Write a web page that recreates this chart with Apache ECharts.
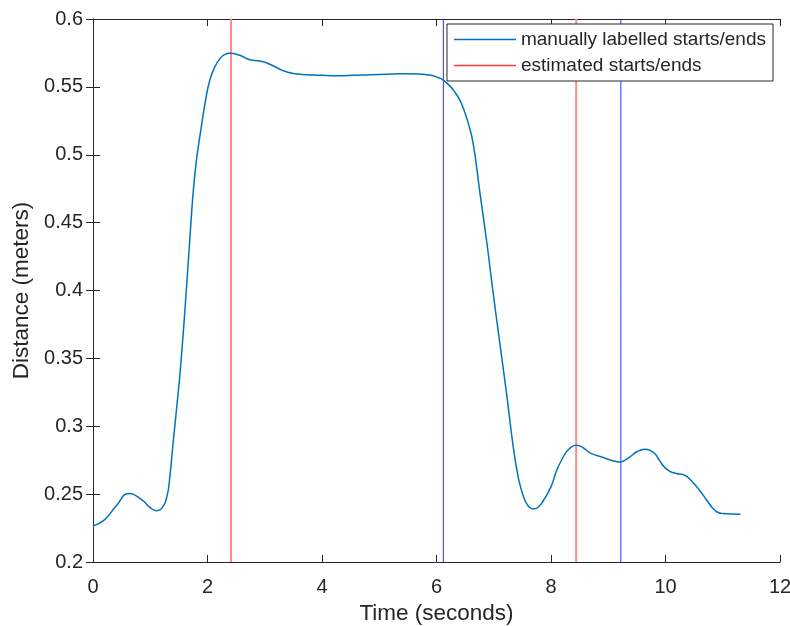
<!DOCTYPE html>
<html>
<head>
<meta charset="utf-8">
<script src="https://cdn.jsdelivr.net/npm/echarts@6/dist/echarts.min.js"></script>
<style>html,body{margin:0;padding:0;background:#fff;}#c{width:790px;height:626px;}</style>
</head>
<body>
<div id="c"></div>
<script>
const timeS = [0,0.2,0.4,0.63,0.85,1.0,1.11,1.2,1.29,1.345,1.40,1.46,1.52,1.61,1.69,1.78,1.90,1.97,2.04,2.12,2.22,2.30,2.38,2.55,2.74,2.92,3.10,3.32,3.50,3.73,4.0,4.26,4.55,4.84,5.1,5.42,5.7,5.90,6.05,6.12,6.25,6.33,6.41,6.47,6.55,6.64,6.76,6.88,6.99,7.11,7.23,7.34,7.43,7.52,7.60,7.69,7.78,7.87,8.0,8.10,8.19,8.27,8.36,8.44,8.55,8.68,8.80,8.91,9.05,9.21,9.30,9.38,9.50,9.64,9.73,9.82,9.90,9.99,10.09,10.19,10.34,10.47,10.60,10.72,10.83,10.92,11.01,11.15,11.31];
const distance = [0.2265,0.231,0.241,0.2505,0.246,0.240,0.2378,0.2395,0.248,0.264,0.288,0.313,0.339,0.388,0.437,0.486,0.523,0.541,0.555,0.564,0.571,0.5738,0.5747,0.5735,0.570,0.5690,0.5665,0.562,0.5598,0.559,0.5585,0.5582,0.5585,0.559,0.5593,0.5597,0.5595,0.5585,0.5565,0.555,0.550,0.5455,0.540,0.534,0.524,0.5084,0.4715,0.435,0.398,0.360,0.322,0.285,0.262,0.248,0.2415,0.239,0.2405,0.2455,0.2555,0.2676,0.2755,0.2811,0.2848,0.286,0.2845,0.2804,0.2785,0.277,0.275,0.2737,0.2752,0.2774,0.2812,0.2831,0.2822,0.2795,0.2745,0.2695,0.2665,0.2652,0.2638,0.259,0.2525,0.2455,0.2394,0.2365,0.2357,0.2353,0.2352];
const manualMarks = [6.12, 9.22];
const estimatedMarks = [2.41, 8.44];
const xTicks = {min: 0, max: 12, interval: 2};
const yTicks = {min: 0.2, max: 0.6, interval: 0.05};
const seriesNames = ['manually labelled starts/ends', 'estimated starts/ends'];

const FONT = '"Liberation Sans", Arial, Helvetica, sans-serif';
const AX = '#262626';

function vLines(xs) {
  const d = [];
  xs.forEach(x => { d.push([x, yTicks.min]); d.push([x, yTicks.max]); d.push(null); });
  return d;
}
const fmtY = v => String(+(+v).toFixed(2));

const baseAxis = {
  axisLine: {show: true, lineStyle: {color: AX, width: 1}},
  axisTick: {show: true, inside: true, length: 7, lineStyle: {color: AX, width: 1}},
  splitLine: {show: false}
};

const chart = echarts.init(document.getElementById('c'), null, {renderer: 'canvas'});
chart.setOption({
  animation: false,
  backgroundColor: '#fff',
  grid: {left: 93, right: 10, top: 19, bottom: 64, containLabel: false, outerBoundsMode: 'none'},
  legend: {
    orient: 'vertical', right: 17, top: 24,
    data: seriesNames,
    icon: 'rect', itemWidth: 62, itemHeight: 1.5, itemGap: 7, itemTextGap: 6,
    padding: [6, 7, 6, 7],
    borderColor: AX, borderWidth: 1, backgroundColor: '#fff',
    textStyle: {fontFamily: FONT, fontSize: 19, color: AX}
  },
  xAxis: [
    Object.assign({}, baseAxis, {type: 'value', position: 'bottom', min: xTicks.min, max: xTicks.max, interval: xTicks.interval,
      name: 'Time (seconds)', nameLocation: 'middle', nameGap: 38,
      nameTextStyle: {fontFamily: FONT, fontSize: 22.5, color: AX},
      axisLabel: {fontFamily: FONT, fontSize: 20, color: AX, margin: 15}}),
    Object.assign({}, baseAxis, {type: 'value', position: 'top', min: xTicks.min, max: xTicks.max, interval: xTicks.interval,
      axisLabel: {show: false}})
  ],
  yAxis: [
    Object.assign({}, baseAxis, {type: 'value', position: 'left', min: yTicks.min, max: yTicks.max, interval: yTicks.interval,
      name: 'Distance (meters)', nameLocation: 'middle', nameGap: 59, nameRotate: 90,
      nameTextStyle: {fontFamily: FONT, fontSize: 22.5, color: AX},
      axisLabel: {fontFamily: FONT, fontSize: 20, color: AX, margin: 10, formatter: fmtY}}),
    Object.assign({}, baseAxis, {type: 'value', position: 'right', min: yTicks.min, max: yTicks.max, interval: yTicks.interval,
      axisLabel: {show: false}})
  ],
  series: [
    {
      name: seriesNames[0], type: 'line', smooth: 0.5, showSymbol: false, symbol: 'none',
      data: timeS.map((t, i) => [t, distance[i]]),
      lineStyle: {color: '#0072BD', width: 1.5}, itemStyle: {color: '#0072BD'}, z: 3
    },
    {
      name: seriesNames[1], type: 'line', showSymbol: false, symbol: 'none', connectNulls: false,
      data: vLines(estimatedMarks),
      lineStyle: {color: '#ff8a8a', width: 2}, itemStyle: {color: '#ff3b3b'}, z: 2
    },
    {
      name: 'manual', type: 'line', showSymbol: false, symbol: 'none', connectNulls: false,
      data: vLines(manualMarks),
      lineStyle: {color: '#3030ff', width: 1}, itemStyle: {color: '#3030ff'}, z: 2
    }
  ]
});
</script>
</body>
</html>
